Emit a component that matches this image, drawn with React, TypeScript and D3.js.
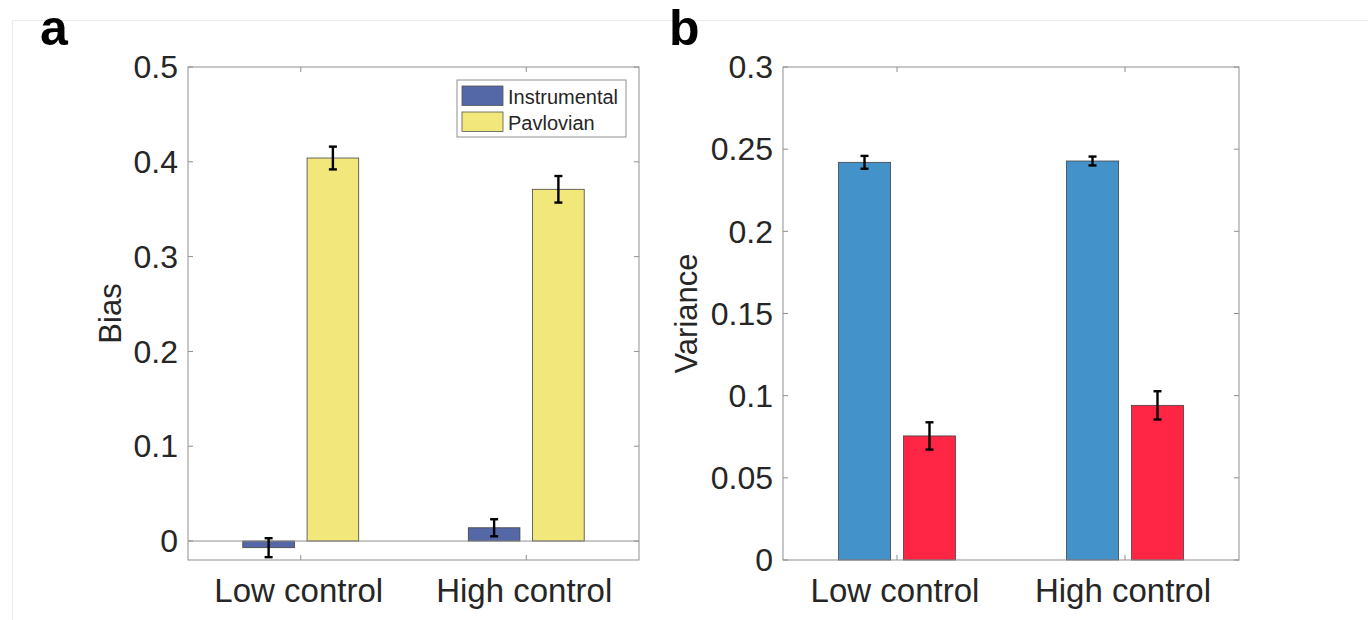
import React from "react";
import * as d3 from "d3";

const categories = ["Low control", "High control"];

// Panel a: Bias
const biasSeries = ["Instrumental", "Pavlovian"];
const biasValues = [
  [-0.007, 0.014],
  [0.404, 0.371],
];
const biasErrors = [
  [0.010, 0.009],
  [0.012, 0.014],
];
const biasTicks = [0, 0.1, 0.2, 0.3, 0.4, 0.5];
const biasTickLabels = ["0", "0.1", "0.2", "0.3", "0.4", "0.5"];

// Panel b: Variance
const varValues = [
  [0.242, 0.2428],
  [0.0755, 0.0941],
];
const varErrors = [
  [0.0039, 0.0027],
  [0.0083, 0.0086],
];
const varTicks = [0, 0.05, 0.1, 0.15, 0.2, 0.25, 0.3];
const varTickLabels = ["0", "0.05", "0.1", "0.15", "0.2", "0.25", "0.3"];

const biasColors = ["#5467a6", "#f2e77b"];
const varColors = ["#4392c9", "#fe2545"];

const FONT = "'Liberation Sans', Arial, Helvetica, sans-serif";
const TEXT = "#262626";
const AXIS = "#8f8f8f";

const BAR_OFFSET = 0.1425;
const BAR_WIDTH = 0.229;

type PanelProps = {
  left: number;
  right: number;
  top: number;
  bottom: number;
  yDomain: [number, number];
  values: number[][];
  errors: number[][];
  colors: string[];
  ticks: number[];
  tickLabels: string[];
  ylabel: string;
  ylabelX: number;
  zeroLine: boolean;
};

function Panel(p: PanelProps) {
  const x = d3.scaleLinear().domain([0.5, 2.5]).range([p.left, p.right]);
  const y = d3.scaleLinear().domain(p.yDomain).range([p.bottom, p.top]);
  const tl = 5;
  const offsets = [-BAR_OFFSET, BAR_OFFSET];
  return (
    <g>
      {p.values.map((series, si) =>
        series.map((v, ci) => {
          const cx = ci + 1 + offsets[si];
          const x0 = x(cx - BAR_WIDTH / 2);
          const x1 = x(cx + BAR_WIDTH / 2);
          const ya = y(Math.max(0, v));
          const yb = y(Math.min(0, v));
          return (
            <rect
              key={`b${si}-${ci}`}
              x={x0}
              y={ya}
              width={x1 - x0}
              height={yb - ya}
              fill={p.colors[si]}
              stroke="#444"
              strokeWidth={0.8}
            />
          );
        })
      )}
      {p.zeroLine && (
        <line x1={p.left} x2={p.right} y1={y(0)} y2={y(0)} stroke={AXIS} strokeWidth={1} />
      )}
      {p.values.map((series, si) =>
        series.map((v, ci) => {
          const cx = x(ci + 1 + offsets[si]);
          const e = p.errors[si][ci];
          const yt = y(v + e);
          const yb = y(v - e);
          return (
            <g key={`e${si}-${ci}`} stroke="#000" strokeWidth={2.4}>
              <line x1={cx} x2={cx} y1={yt} y2={yb} />
              <line x1={cx - 4} x2={cx + 4} y1={yt} y2={yt} />
              <line x1={cx - 4} x2={cx + 4} y1={yb} y2={yb} />
            </g>
          );
        })
      )}
      <rect
        x={p.left}
        y={p.top}
        width={p.right - p.left}
        height={p.bottom - p.top}
        fill="none"
        stroke={AXIS}
        strokeWidth={1}
      />
      {p.ticks.map((t, i) => (
        <g key={`yt${i}`}>
          <line x1={p.left} x2={p.left + tl} y1={y(t)} y2={y(t)} stroke={AXIS} />
          <line x1={p.right} x2={p.right - tl} y1={y(t)} y2={y(t)} stroke={AXIS} />
          <text
            x={p.left - 10}
            y={y(t)}
            dy="0.35em"
            textAnchor="end"
            fontFamily={FONT}
            fontSize={32}
            fill={TEXT}
          >
            {p.tickLabels[i]}
          </text>
        </g>
      ))}
      {categories.map((c, i) => (
        <g key={`xt${i}`}>
          <line x1={x(i + 1)} x2={x(i + 1)} y1={p.bottom} y2={p.bottom - tl} stroke={AXIS} />
          <line x1={x(i + 1)} x2={x(i + 1)} y1={p.top} y2={p.top + tl} stroke={AXIS} />
          <text
            x={x(i + 1) - 2}
            y={602}
            textAnchor="middle"
            fontFamily={FONT}
            fontSize={33}
            fill={TEXT}
          >
            {c}
          </text>
        </g>
      ))}
      <text
        transform={`translate(${p.ylabelX},${(p.top + p.bottom) / 2}) rotate(-90)`}
        textAnchor="middle"
        fontFamily={FONT}
        fontSize={31}
        fill={TEXT}
      >
        {p.ylabel}
      </text>
    </g>
  );
}

export default function App() {
  return (
    <svg
      width={1368}
      height={620}
      style={{ position: "absolute", left: 0, top: 0, background: "#fff" }}
    >
      <rect x={0} y={0} width={1368} height={620} fill="#fff" />
      <line x1={12} x2={1368} y1={20.5} y2={20.5} stroke="#ececec" />
      <line x1={12.5} x2={12.5} y1={20} y2={620} stroke="#ececec" />

      <Panel
        left={188}
        right={639}
        top={67}
        bottom={560}
        yDomain={[-0.02, 0.5]}
        values={biasValues}
        errors={biasErrors}
        colors={biasColors}
        ticks={biasTicks}
        tickLabels={biasTickLabels}
        ylabel="Bias"
        ylabelX={121}
        zeroLine={true}
      />
      <Panel
        left={783}
        right={1239}
        top={67}
        bottom={560}
        yDomain={[0, 0.3]}
        values={varValues}
        errors={varErrors}
        colors={varColors}
        ticks={varTicks}
        tickLabels={varTickLabels}
        ylabel="Variance"
        ylabelX={697}
        zeroLine={false}
      />

      <g>
        <rect x={457} y={80} width={169} height={57} fill="#fff" stroke={AXIS} strokeWidth={1} />
        {biasSeries.map((s, i) => (
          <g key={s}>
            <rect
              x={462}
              y={86 + i * 26}
              width={41}
              height={19.5}
              fill={biasColors[i]}
              stroke="#555"
              strokeWidth={0.8}
            />
            <text x={508} y={104 + i * 26} fontFamily={FONT} fontSize={20} fill={TEXT}>
              {s}
            </text>
          </g>
        ))}
      </g>

      <text x={40} y={45} fontFamily={FONT} fontWeight="bold" fontSize={50} fill="#000">
        a
      </text>
      <text x={669} y={45} fontFamily={FONT} fontWeight="bold" fontSize={50} fill="#000">
        b
      </text>
    </svg>
  );
}
